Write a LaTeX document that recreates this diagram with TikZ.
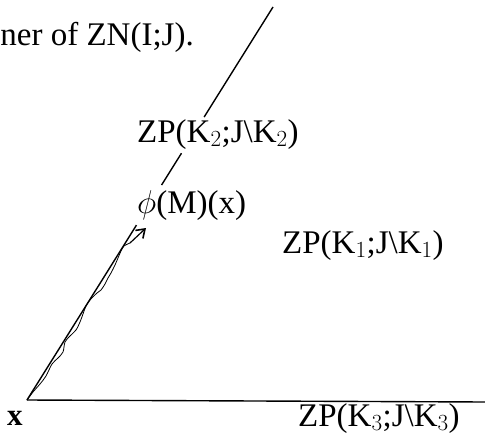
\documentclass[tikz,border=0pt]{standalone}
\usepackage{fix-cm}
\usepackage{fontspec}
\setmainfont{Liberation Serif}
\usetikzlibrary{calc,arrows.meta}
\begin{document}
\begin{tikzpicture}[x=1pt,y=-1pt,
  edge/.style={line width=1.4pt},
  wiggle/.style={line width=0.8pt},
  lbl/.style={inner sep=0pt, font=\fontsize{33}{38}\selectfont, anchor=base west},
  body/.style={inner sep=0pt, font=\fontsize{33}{38}\selectfont, anchor=base east}]
\useasboundingbox (0,0) rectangle (485,434);
\coordinate (V) at (27,400);
\coordinate (T) at (273,7);
\coordinate (E) at (485,402);
\coordinate (A1) at ($(V)!0.445!(T)$);
\coordinate (A2) at ($(V)!0.547!(T)$);
\coordinate (A3) at ($(V)!0.628!(T)$);
\coordinate (A4) at ($(V)!0.72!(T)$);
\coordinate (W) at (130,243);
\coordinate (H) at (146,228);
\draw[edge] (V) -- (A1);
\draw[edge] (A2) -- (A3);
\draw[edge] (A4) -- (T);
\draw[edge] (V) -- (E);
\draw[wiggle]
  plot[smooth, tension=0.5] coordinates {(27,400) (33,392) (40,384) (46,376) (52,364) (58,358) (63,352) (65,342) (70,336) (76,330) (80,322) (83,314) (86,306) (90,300) (97,293) (101,290) (105,284) (108,278) (111,273) (115,265) (118,258) (121,251) (124,246) (W)};
\draw[line width=1.2pt, -{Straight Barb[length=8pt,width=11pt,line width=1.6pt]}] (W) -- (H);
\node[body] (top) at (194,45) {ner of ZN(I;J).};
\node[lbl] (k2) at (137,142) {ZP(K$_2$;J\textbackslash K$_2$)};
\node[lbl] (phi) at (137,213) {$\phi$(M)(x)};
\node[lbl] (k1) at (282,253) {ZP(K$_1$;J\textbackslash K$_1$)};
\node[lbl] (k3) at (298,426) {ZP(K$_3$;J\textbackslash K$_3$)};
\node[lbl, font=\fontsize{31}{36}\selectfont\bfseries] (x) at (7,425) {x};
\end{tikzpicture}
\end{document}
